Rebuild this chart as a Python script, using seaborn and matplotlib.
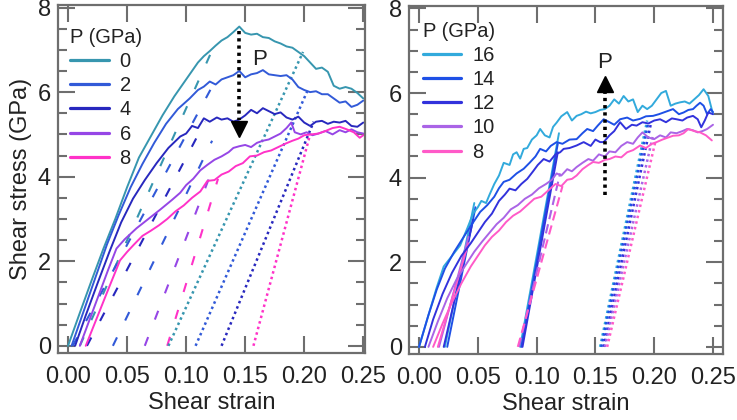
import seaborn as sns
import matplotlib.pyplot as plt
from matplotlib.ticker import MultipleLocator

# ---------------- left panel : P = 0 ... 8 GPa ----------------
left_pressures = ["0", "2", "4", "6", "8"]
left_colors = ["#3796af", "#325ad8", "#2828be", "#9646e6", "#ff32c8"]

# loading curves (shear strain, shear stress in GPa)
left_p0 = [(0.000, 0.00), (0.010, 0.78), (0.020, 1.55), (0.030, 2.30), (0.040, 3.00),
           (0.050, 3.75), (0.060, 4.45), (0.070, 4.95), (0.080, 5.45), (0.090, 5.90),
           (0.100, 6.30), (0.110, 6.70), (0.115, 6.85), (0.120, 6.97), (0.125, 7.10),
           (0.130, 7.22), (0.135, 7.30), (0.140, 7.42), (0.145, 7.55), (0.150, 7.40),
           (0.155, 7.36), (0.160, 7.38), (0.165, 7.30), (0.170, 7.28), (0.175, 7.20),
           (0.180, 7.15), (0.185, 7.08), (0.190, 7.05), (0.195, 6.95), (0.200, 6.85),
           (0.205, 6.70), (0.210, 6.55), (0.215, 6.58), (0.220, 6.48), (0.225, 6.15),
           (0.230, 6.08), (0.235, 6.12), (0.240, 6.08), (0.245, 5.98), (0.250, 5.85)]
left_p2 = [(0.003, 0.00), (0.013, 0.80), (0.023, 1.60), (0.033, 2.40), (0.043, 3.10),
           (0.053, 3.75), (0.063, 4.30), (0.073, 4.80), (0.083, 5.25), (0.093, 5.60),
           (0.103, 5.85), (0.110, 6.05), (0.115, 6.13), (0.120, 6.25), (0.125, 6.18),
           (0.130, 6.30), (0.135, 6.35), (0.140, 6.40), (0.145, 6.50), (0.150, 6.35),
           (0.155, 6.42), (0.160, 6.45), (0.165, 6.52), (0.170, 6.42), (0.175, 6.40),
           (0.180, 6.38), (0.185, 6.40), (0.190, 6.30), (0.195, 6.12), (0.200, 6.05),
           (0.205, 6.00), (0.210, 6.02), (0.215, 5.95), (0.220, 5.95), (0.225, 5.85),
           (0.230, 5.75), (0.235, 5.78), (0.240, 5.65), (0.245, 5.70), (0.250, 5.80)]
left_p4 = [(0.006, 0.00), (0.015, 0.72), (0.025, 1.48), (0.035, 2.22), (0.045, 2.92),
           (0.055, 3.48), (0.065, 3.92), (0.075, 4.32), (0.085, 4.68), (0.095, 4.95),
           (0.100, 5.02), (0.105, 5.20), (0.110, 5.15), (0.115, 5.38), (0.120, 5.30),
           (0.126, 5.40), (0.130, 5.35), (0.135, 5.38), (0.140, 5.30), (0.145, 5.35),
           (0.150, 5.45), (0.155, 5.58), (0.160, 5.50), (0.165, 5.62), (0.170, 5.55),
           (0.175, 5.48), (0.180, 5.52), (0.185, 5.40), (0.190, 5.35), (0.195, 5.42),
           (0.200, 5.28), (0.205, 5.20), (0.210, 5.30), (0.215, 5.32), (0.220, 5.25),
           (0.225, 5.30), (0.230, 5.28), (0.235, 5.32), (0.240, 5.20), (0.245, 5.18),
           (0.250, 5.28)]
left_p6 = [(0.010, 0.00), (0.018, 0.60), (0.026, 1.20), (0.034, 1.80), (0.041, 2.30),
           (0.048, 2.52), (0.058, 2.78), (0.068, 3.00), (0.078, 3.22), (0.088, 3.45),
           (0.095, 3.62), (0.100, 3.80), (0.106, 3.95), (0.112, 4.15), (0.118, 4.28),
           (0.124, 4.40), (0.130, 4.48), (0.136, 4.58), (0.140, 4.68), (0.145, 4.72),
           (0.150, 4.75), (0.155, 4.70), (0.160, 4.80), (0.165, 4.85), (0.170, 4.88),
           (0.175, 4.95), (0.180, 5.02), (0.185, 5.15), (0.189, 5.28), (0.192, 5.05),
           (0.197, 5.00), (0.202, 5.05), (0.207, 4.98), (0.212, 5.02), (0.218, 5.08),
           (0.224, 5.00), (0.230, 5.10), (0.235, 5.05), (0.240, 5.12), (0.245, 5.05),
           (0.250, 5.02)]
left_p8 = [(0.015, 0.00), (0.025, 0.70), (0.035, 1.40), (0.044, 2.02), (0.050, 2.22),
           (0.056, 2.40), (0.063, 2.60), (0.070, 2.72), (0.077, 2.85), (0.084, 3.00),
           (0.091, 3.18), (0.098, 3.32), (0.105, 3.50), (0.112, 3.65), (0.118, 3.90),
           (0.124, 3.92), (0.130, 4.05), (0.136, 4.12), (0.142, 4.25), (0.148, 4.32),
           (0.154, 4.48), (0.160, 4.50), (0.166, 4.58), (0.172, 4.62), (0.178, 4.70),
           (0.184, 4.78), (0.190, 4.85), (0.195, 4.90), (0.200, 4.98), (0.206, 5.00),
           (0.212, 5.02), (0.218, 5.08), (0.224, 5.15), (0.230, 5.18), (0.236, 5.12),
           (0.242, 5.05), (0.247, 4.92), (0.250, 4.98)]

# dashed unloading lines: (color index, start, end)
left_dashed = [(0, (0.010, 0.0), (0.123, 7.05)),
               (1, (0.004, 0.0), (0.122, 6.13)),
               (2, (0.016, 0.0), (0.116, 5.30)),
               (1, (0.038, 0.0), (0.122, 4.85)),
               (3, (0.065, 0.0), (0.124, 4.30)),
               (4, (0.084, 0.0), (0.127, 3.95))]
# dotted final unloading lines
left_dotted = [(0, (0.085, 0.0), (0.199, 6.95)),
               (1, (0.108, 0.0), (0.203, 6.05)),
               (2, (0.130, 0.0), (0.208, 5.30)),
               (4, (0.157, 0.0), (0.205, 5.00))]

# ---------------- right panel : P = 16 ... 8 GPa ----------------
right_pressures = ["16", "14", "12", "10", "8"]
right_colors = ["#32aadc", "#1e50e6", "#3232dc", "#aa64e6", "#ff5ac8"]

right_p16 = [(0.000, 0.00), (0.008, 0.75), (0.015, 1.40), (0.021, 1.90), (0.028, 2.15),
             (0.035, 2.40), (0.041, 2.80), (0.046, 3.15), (0.050, 3.30), (0.053, 3.45),
             (0.057, 3.40), (0.060, 3.60), (0.064, 3.85), (0.068, 4.05), (0.072, 4.35),
             (0.077, 4.30), (0.080, 4.55), (0.083, 4.60), (0.086, 4.45), (0.089, 4.68),
             (0.092, 4.70), (0.096, 4.90), (0.100, 5.00), (0.103, 5.15), (0.107, 5.00),
             (0.111, 4.95), (0.114, 5.20), (0.117, 5.30), (0.121, 5.45), (0.126, 5.55),
             (0.130, 5.35), (0.134, 5.46), (0.138, 5.50), (0.142, 5.56), (0.146, 5.52),
             (0.150, 5.55), (0.154, 5.60), (0.158, 5.62), (0.162, 5.70), (0.166, 5.85),
             (0.170, 5.75), (0.174, 5.93), (0.178, 5.80), (0.182, 5.85), (0.186, 5.55),
             (0.190, 5.70), (0.194, 5.62), (0.198, 5.70), (0.202, 5.85), (0.206, 6.00),
             (0.210, 6.05), (0.214, 5.70), (0.218, 5.75), (0.222, 5.78), (0.226, 5.80),
             (0.230, 5.75), (0.234, 5.85), (0.238, 5.95), (0.242, 6.09), (0.246, 5.93),
             (0.250, 5.50)]
right_p14 = [(0.000, 0.00), (0.008, 0.75), (0.015, 1.35), (0.022, 1.85), (0.030, 2.25),
             (0.038, 2.60), (0.045, 2.90), (0.052, 3.19), (0.058, 3.35), (0.064, 3.55),
             (0.068, 3.75), (0.072, 3.90), (0.077, 3.95), (0.083, 4.10), (0.089, 4.21),
             (0.094, 4.35), (0.099, 4.50), (0.103, 4.68), (0.108, 4.62), (0.112, 4.75),
             (0.117, 4.84), (0.122, 4.80), (0.128, 4.90), (0.134, 4.91), (0.139, 5.05),
             (0.143, 5.15), (0.148, 5.10), (0.152, 5.23), (0.157, 5.38), (0.162, 5.31),
             (0.166, 5.25), (0.171, 5.38), (0.177, 5.42), (0.182, 5.35), (0.188, 5.39),
             (0.193, 5.45), (0.199, 5.46), (0.204, 5.50), (0.208, 5.54), (0.212, 5.58),
             (0.216, 5.62), (0.221, 5.50), (0.225, 5.54), (0.229, 5.60), (0.233, 5.62),
             (0.236, 5.70), (0.239, 5.77), (0.242, 5.70), (0.245, 5.50), (0.248, 5.62),
             (0.250, 5.55)]
right_p12 = [(0.005, 0.00), (0.012, 0.65), (0.020, 1.25), (0.028, 1.75), (0.036, 2.15),
             (0.044, 2.45), (0.050, 2.70), (0.056, 2.95), (0.062, 3.15), (0.068, 3.45),
             (0.073, 3.60), (0.077, 3.74), (0.082, 3.70), (0.087, 3.85), (0.092, 3.97),
             (0.097, 4.15), (0.101, 4.30), (0.106, 4.44), (0.111, 4.38), (0.116, 4.55),
             (0.120, 4.60), (0.123, 4.68), (0.128, 4.70), (0.134, 4.76), (0.140, 4.84),
             (0.146, 4.75), (0.150, 4.90), (0.154, 4.84), (0.157, 4.84), (0.162, 5.00),
             (0.166, 5.10), (0.171, 5.31), (0.176, 5.15), (0.181, 5.25), (0.185, 5.23),
             (0.190, 5.31), (0.195, 5.28), (0.200, 5.35), (0.205, 5.38), (0.210, 5.31),
             (0.215, 5.40), (0.219, 5.38), (0.224, 5.35), (0.228, 5.42), (0.233, 5.46),
             (0.237, 5.38), (0.240, 5.19), (0.243, 5.35), (0.246, 5.54), (0.250, 5.50)]
right_p10 = [(0.008, 0.00), (0.016, 0.60), (0.024, 1.15), (0.032, 1.60), (0.040, 1.95),
             (0.047, 2.25), (0.054, 2.50), (0.060, 2.70), (0.066, 2.90), (0.072, 3.05),
             (0.078, 3.25), (0.084, 3.35), (0.090, 3.50), (0.096, 3.60), (0.102, 3.75),
             (0.108, 3.85), (0.113, 3.95), (0.117, 4.10), (0.121, 4.05), (0.126, 4.20),
             (0.130, 4.15), (0.134, 4.25), (0.139, 4.35), (0.144, 4.44), (0.148, 4.40),
             (0.153, 4.55), (0.158, 4.50), (0.162, 4.62), (0.167, 4.60), (0.172, 4.75),
             (0.177, 4.84), (0.182, 4.80), (0.186, 4.95), (0.190, 5.07), (0.195, 4.95),
             (0.200, 4.91), (0.205, 5.00), (0.210, 4.95), (0.214, 5.07), (0.219, 5.05),
             (0.224, 5.10), (0.228, 5.15), (0.233, 5.12), (0.237, 5.07), (0.241, 5.10),
             (0.245, 5.15), (0.250, 5.25)]
right_p8 = [(0.012, 0.00), (0.020, 0.55), (0.028, 1.05), (0.036, 1.50), (0.044, 1.90),
            (0.050, 2.15), (0.056, 2.40), (0.062, 2.60), (0.068, 2.75), (0.074, 2.95),
            (0.080, 3.10), (0.086, 3.20), (0.092, 3.35), (0.098, 3.50), (0.104, 3.55),
            (0.110, 3.70), (0.116, 3.85), (0.121, 3.80), (0.126, 3.95), (0.130, 3.97),
            (0.134, 4.05), (0.139, 4.20), (0.144, 4.30), (0.148, 4.37), (0.153, 4.35),
            (0.158, 4.42), (0.162, 4.44), (0.167, 4.50), (0.172, 4.48), (0.177, 4.60),
            (0.182, 4.65), (0.188, 4.76), (0.193, 4.70), (0.198, 4.80), (0.202, 4.84),
            (0.207, 4.90), (0.212, 4.95), (0.216, 4.99), (0.221, 5.00), (0.225, 5.05),
            (0.229, 5.15), (0.234, 5.10), (0.239, 5.07), (0.244, 5.00), (0.249, 4.88)]

# reloading lines (solid) and mid unloading lines (solid / dashed)
right_reload = [(0, (0.022, 0.0), (0.047, 3.40)),
                (1, (0.024, 0.0), (0.048, 3.30)),
                (2, (0.021, 0.0), (0.046, 3.00)),
                (3, (0.017, 0.0), (0.042, 2.60)),
                (4, (0.016, 0.0), (0.042, 2.45)),
                (0, (0.086, 0.0), (0.119, 5.05)),
                (1, (0.087, 0.0), (0.118, 4.80)),
                (2, (0.088, 0.0), (0.118, 4.60))]
right_dashed = [(3, (0.085, 0.0), (0.120, 4.10)),
                (4, (0.084, 0.0), (0.122, 3.80))]
right_dotted = [(0, (0.154, 0.0), (0.194, 5.35)),
                (1, (0.155, 0.0), (0.195, 5.30)),
                (2, (0.157, 0.0), (0.197, 5.25)),
                (3, (0.158, 0.0), (0.199, 5.00)),
                (4, (0.160, 0.0), (0.201, 4.85))]

sns.set_theme(style="white")
plt.rcParams['font.family'] = ['Liberation Sans', 'DejaVu Sans']
frame_col = "#6e6e6e"
text_col = "#222222"

fig = plt.figure(figsize=(7.37, 4.2), dpi=100)
ax_l = fig.add_axes([0.0787, 0.1595, 0.4166, 0.8286])
ax_r = fig.add_axes([0.555, 0.157, 0.426, 0.829])

DASH = (0, (4.5, 9))
DOT = (0, (1.0, 1.3))


def draw_line(ax, pts, color, ls="-", lw=1.4, label=None):
    xs = [p[0] for p in pts]
    ys = [p[1] for p in pts]
    sns.lineplot(x=xs, y=ys, ax=ax, color=color, linestyle=ls, lw=lw,
                 sort=False, estimator=None, label=label, legend=False)


def style_axes(ax, xmax):
    ax.set_xlim(-0.0085, xmax)
    ax.set_ylim(-0.17, 8.06)
    ax.set_xticks([0.0, 0.05, 0.10, 0.15, 0.20, 0.25])
    ax.set_xticklabels(["0.00", "0.05", "0.10", "0.15", "0.20", "0.25"])
    ax.set_yticks([0, 2, 4, 6, 8])
    ax.yaxis.set_minor_locator(MultipleLocator(0.5))
    for s in ax.spines.values():
        s.set_color(frame_col)
        s.set_linewidth(1.6)
    ax.tick_params(which="major", direction="in", length=12, width=1.5,
                   color=frame_col, top=True, right=True, bottom=True, left=True,
                   labelsize=17, labelcolor=text_col)
    ax.tick_params(axis="y", which="minor", direction="in", length=6.5, width=1.5,
                   color=frame_col, left=True, right=True)
    ax.tick_params(axis="x", pad=9)
    ax.tick_params(axis="y", pad=5)
    ax.set_xlabel("Shear strain", fontsize=17, color=text_col, labelpad=3)


# ---- left panel ----
for c, a, b in left_dashed:
    draw_line(ax_l, [a, b], left_colors[c], ls=DASH, lw=1.5)
for c, a, b in left_dotted:
    draw_line(ax_l, [a, b], left_colors[c], ls=DOT, lw=1.8)
left_curves = [left_p0, left_p2, left_p4, left_p6, left_p8]
for pts, col, lab in zip(left_curves, left_colors, left_pressures):
    draw_line(ax_l, pts, col, label=lab)

# pressure arrow (down)
ax_l.plot([0.145, 0.145], [7.45, 5.35], color="black", lw=2.6, ls=(0, (0.9, 1.1)))
ax_l.plot([0.145], [5.13], marker="v", color="black", markersize=11, ls="none")
ax_l.text(0.1625, 6.78, "P", fontsize=16, ha="center", va="center", color=text_col)

style_axes(ax_l, 0.2515)
ax_l.set_ylabel("Shear stress (GPa)", fontsize=17, color=text_col, labelpad=4)

# ---- right panel ----
for c, a, b in right_reload:
    draw_line(ax_r, [a, b], right_colors[c], lw=1.4)
for c, a, b in right_dashed:
    draw_line(ax_r, [a, b], right_colors[c], ls=(0, (4.5, 2.5)), lw=1.5)
for c, a, b in right_dotted:
    draw_line(ax_r, [a, b], right_colors[c], ls=DOT, lw=1.8)
right_curves = [right_p16, right_p14, right_p12, right_p10, right_p8]
for pts, col, lab in zip(right_curves, right_colors, right_pressures):
    draw_line(ax_r, pts, col, label=lab)

# pressure arrow (up)
ax_r.plot([0.158, 0.158], [3.6, 6.0], color="black", lw=2.6, ls=(0, (0.9, 1.1)))
ax_r.plot([0.158], [6.22], marker="^", color="black", markersize=11, ls="none")
ax_r.text(0.158, 6.72, "P", fontsize=16, ha="center", va="center", color=text_col)

style_axes(ax_r, 0.2585)
ax_r.set_ylabel("")

# legends
for ax, labels, anchor in [(ax_l, left_pressures, (0.04, 0.935)),
                           (ax_r, right_pressures, (0.045, 0.955))]:
    handles, labs = ax.get_legend_handles_labels()
    order = [labs.index(l) for l in labels]
    leg = ax.legend([handles[i] for i in order], [labs[i] for i in order],
                    title="P (GPa)", loc="upper left", bbox_to_anchor=anchor,
                    frameon=False, fontsize=14.5, title_fontsize=14.5,
                    handlelength=1.9, handletextpad=0.55, labelspacing=0.26,
                    borderpad=0, borderaxespad=0, alignment="left")
    for h in leg.legend_handles:
        h.set_linewidth(2.3)
    for t in leg.get_texts():
        t.set_color(text_col)
    leg.get_title().set_color(text_col)

fig.savefig("out.png", dpi=100)
